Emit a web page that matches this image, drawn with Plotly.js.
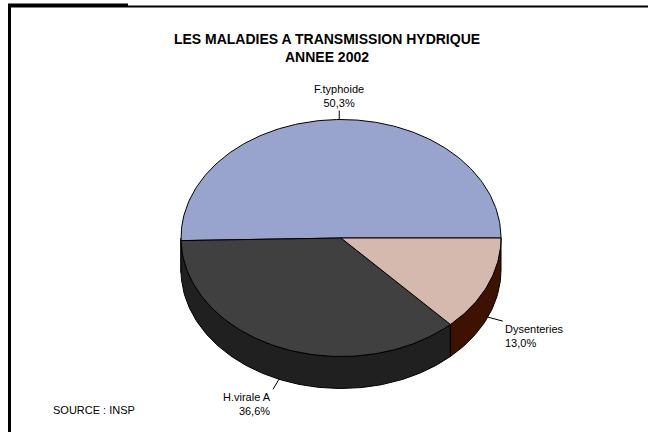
<!DOCTYPE html>
<html>
<head>
<meta charset="utf-8">
<script src="https://cdn.plot.ly/plotly-3.0.1.min.js"></script>
<style>html,body{margin:0;padding:0;background:#fff;}#chart{width:648px;height:432px;}</style>
</head>
<body>
<div id="chart"></div>
<script>
// ---- data ----
const categories = ['F.typhoide', 'H.virale A', 'Dysenteries'];
const values = [50.3, 36.6, 13.0];
const valueLabels = ['50,3%', '36,6%', '13,0%'];
const titleText = 'LES MALADIES A TRANSMISSION HYDRIQUE<br>ANNEE 2002';
const sourceText = 'SOURCE : INSP';

// ---- styles ----
const topColors = ['#99A4CE', '#404040', '#D6B9AE'];
const sideColors = ['#4C5268', '#202020', '#3E1200'];

// ---- geometry (pixel space) ----
const cx = 341, cy = 238, rx = 160, ry = 118.5, depth = 32;
const FONT = 'Arial, "Liberation Sans", sans-serif';

function pt(deg, dz) {
  const r = deg * Math.PI / 180;
  return [cx + rx * Math.cos(r), cy - ry * Math.sin(r) + dz];
}
function arc(a1, a2, dz) {
  const xs = [], ys = [];
  const n = Math.max(2, Math.ceil(Math.abs(a2 - a1)));
  for (let i = 0; i <= n; i++) {
    const p = pt(a1 + (a2 - a1) * i / n, dz);
    xs.push(p[0]); ys.push(p[1]);
  }
  return [xs, ys];
}

const total = values.reduce((a, b) => a + b, 0);
const starts = [], ends = [];
let acc = 0;
values.forEach(v => {
  starts.push(acc / total * 360);
  acc += v;
  ends.push(acc / total * 360);
});

const traces = [];
// side faces (front half, 180..360 deg)
values.forEach((v, i) => {
  const lo = Math.max(starts[i], 180), hi = Math.min(ends[i], 360);
  if (hi <= lo) return;
  const [tx, ty] = arc(lo, hi, 0);
  const [bx, by] = arc(hi, lo, depth);
  traces.push({
    type: 'scatter', mode: 'lines', fill: 'toself',
    x: tx.concat(bx, [tx[0]]), y: ty.concat(by, [ty[0]]),
    fillcolor: sideColors[i], line: {color: '#000', width: 1},
    hoverinfo: 'skip', showlegend: false
  });
});
// top faces
values.forEach((v, i) => {
  const [ax, ay] = arc(starts[i], ends[i], 0);
  traces.push({
    type: 'scatter', mode: 'lines', fill: 'toself',
    x: [cx].concat(ax, [cx]), y: [cy].concat(ay, [cy]),
    fillcolor: topColors[i], line: {color: '#000', width: 1},
    name: categories[i], hoverinfo: 'name', showlegend: false
  });
});

// labels with leader lines
const labelOffsets = [
  {ax: 0, ay: -23.5, xanchor: 'center', yanchor: 'middle', align: 'center', front: false},
  {ax: -6, ay: 10, xanchor: 'right', yanchor: 'top', align: 'right', front: true},
  {ax: 15, ay: 4, xanchor: 'left', yanchor: 'top', align: 'left', front: true}
];
const annotations = values.map((v, i) => {
  const mid = (starts[i] + ends[i]) / 2;
  const o = labelOffsets[i];
  const p = pt(mid, o.front ? depth : 0);
  return {
    x: p[0], y: p[1], xref: 'x', yref: 'y',
    text: categories[i] + '<br>' + valueLabels[i],
    showarrow: true, arrowhead: 0, arrowwidth: 1, arrowcolor: '#000',
    ax: o.ax, ay: o.ay, xanchor: o.xanchor, yanchor: o.yanchor, align: o.align,
    font: {family: FONT, size: 11, color: '#000'}
  };
});
annotations.push({
  x: 51, y: 410, xref: 'x', yref: 'y', text: sourceText, showarrow: false,
  xanchor: 'left', yanchor: 'middle', font: {family: FONT, size: 11, color: '#000'}
});

const layout = {
  width: 648, height: 432,
  margin: {l: 0, r: 0, t: 0, b: 0},
  paper_bgcolor: '#fff', plot_bgcolor: '#fff',
  title: {
    text: '<b>' + titleText + '</b>',
    x: 327 / 648, xanchor: 'center', xref: 'paper',
    y: 1 - 44 / 432, yanchor: 'middle', yref: 'container',
    font: {family: FONT, size: 14, color: '#000'}
  },
  xaxis: {range: [0, 648], autorange: false, visible: false, fixedrange: true},
  yaxis: {range: [432, 0], autorange: false, visible: false, fixedrange: true},
  showlegend: false,
  annotations: annotations,
  shapes: [
    {type: 'line', xref: 'x', yref: 'y', x0: 9.5, x1: 9.5, y0: 5, y1: 432, line: {color: '#000', width: 3}},
    {type: 'line', xref: 'x', yref: 'y', x0: 8, x1: 648, y0: 6.5, y1: 6.5, line: {color: '#000', width: 2}},
    {type: 'rect', xref: 'x', yref: 'y', x0: 8, x1: 128, y0: 3.5, y1: 7, fillcolor: '#000', line: {width: 0}}
  ]
};

Plotly.newPlot('chart', traces, layout, {displayModeBar: false, staticPlot: true});
</script>
</body>
</html>
